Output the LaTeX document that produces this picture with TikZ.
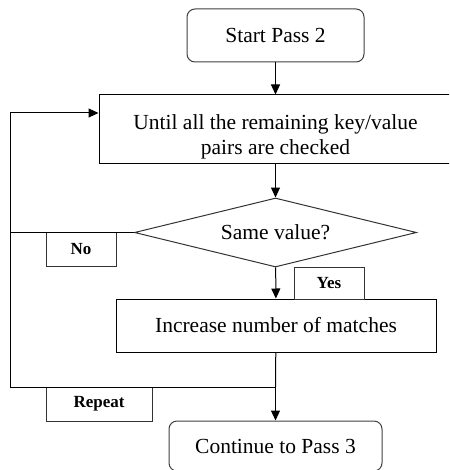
\documentclass[tikz,border=0pt]{standalone}
\usepackage{fontspec}
\setmainfont{Liberation Serif}
\usetikzlibrary{shapes.geometric,arrows.meta}
\begin{document}
\begin{tikzpicture}[x=1pt,y=-1pt,
  box/.style={draw=black,line width=1pt,fill=white,inner sep=0pt,align=center,
    font=\fontsize{21.5}{25}\selectfont},
  rbox/.style={box,draw=black!75,rounded corners=8pt},
  dia/.style={draw=black!80,line width=1pt,diamond,inner sep=0pt,aspect=4,
    font=\fontsize{21.5}{25}\selectfont},
  lab/.style={draw=black!80,line width=1pt,inner sep=0pt,
    font=\fontsize{17}{18}\selectfont\bfseries},
  conn/.style={draw=black,line width=1pt},
  arr/.style={conn,-{Triangle[length=10pt,width=9pt]}}]
\useasboundingbox (0,0) rectangle (449,470);
\clip (0,0) rectangle (449,470);
\node[rbox,minimum width=177pt,minimum height=53pt] (start) at (275.5,35.5) {Start Pass 2};
\node[box,minimum width=353pt,minimum height=69pt] (loop) at (275.5,129.5)
  {\rule{0pt}{30pt}Until all the remaining key/value\\pairs are checked};
\node[dia,minimum width=282pt,minimum height=69pt] (same) at (275.5,232.5) {Same value?};
\node[box,minimum width=320pt,minimum height=53pt] (inc) at (276,325.5) {Increase number of matches};
\node[rbox,minimum width=213pt,minimum height=50pt] (cont) at (275.5,446) {Continue to Pass 3};
\node[lab,minimum width=70pt,minimum height=34pt] (no) at (81,249) {No};
\node[lab,minimum width=70pt,minimum height=32pt] (yes) at (329,283) {Yes};
\node[lab,minimum width=106pt,minimum height=34pt] (rep) at (99,404) {Repeat};
\coordinate (j) at (275.5,387);
\coordinate (lb) at (10.5,387);
\coordinate (lt) at (10.5,113);
\coordinate (nl) at (10.5,232.5);
\draw[arr] (start) -- (loop);
\draw[arr] (loop) -- (same);
\draw[arr] (same) -- (inc);
\draw[conn] (inc) -- (j);
\draw[arr] (j) -- (cont);
\draw[conn] (same.west) -- (nl);
\draw[arr] (j) -- (lb) -- (lt) -- (lt -| loop.west);
\end{tikzpicture}
\end{document}
